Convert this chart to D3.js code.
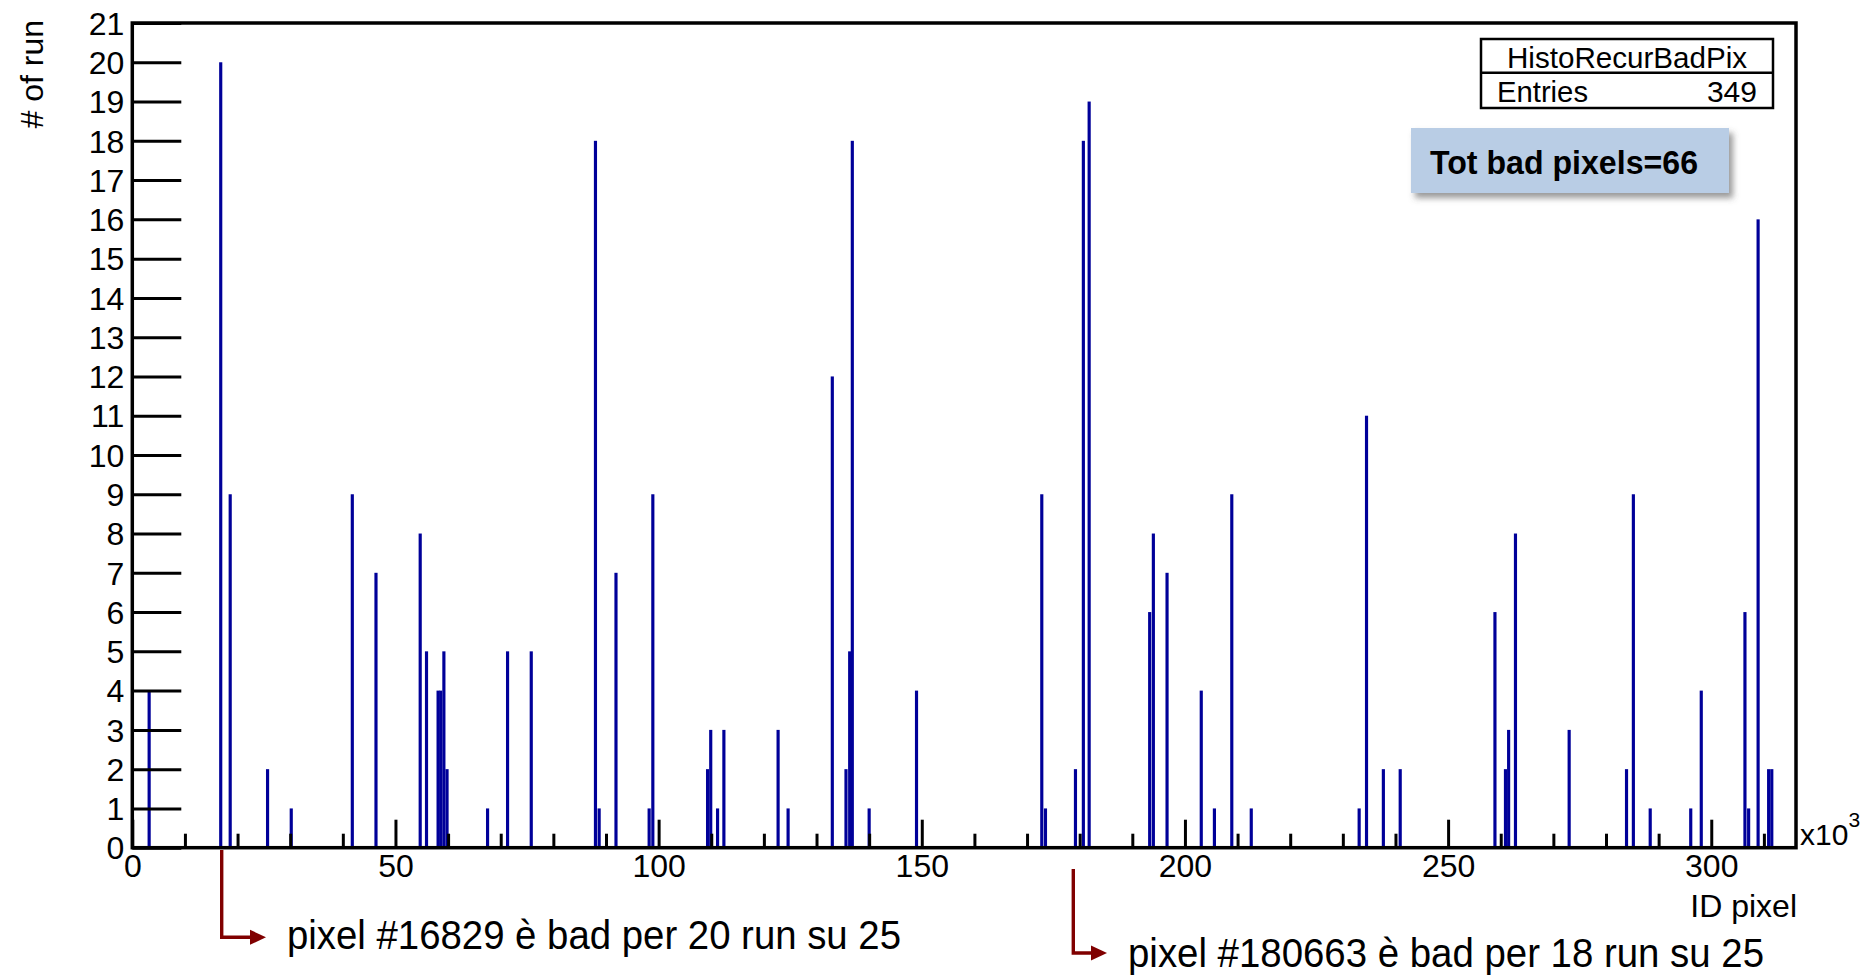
<!DOCTYPE html>
<html>
<head>
<meta charset="utf-8">
<script src="https://cdn.jsdelivr.net/npm/d3@7"></script>
<style>
  html, body { margin: 0; padding: 0; background: #fff; }
  svg { display: block; }
  text { font-family: "Liberation Sans", Arial, sans-serif; }
</style>
</head>
<body>
<svg id="chart" width="1872" height="977"></svg>
<script>
// ---- data (pixel ID in units of 10^3, number of runs) ----
const pixelIds = [3.2, 16.8, 18.6, 25.7, 30.2, 41.8, 46.3, 54.7, 55.9, 58.1, 58.6, 59.2, 59.8,
  67.5, 71.3, 75.8, 88.0, 88.7, 91.9, 98.2, 98.9, 109.3, 109.9, 111.2, 112.4, 122.7, 124.6,
  133.0, 135.6, 136.3, 136.8, 140.0, 149.0, 172.8, 173.5, 179.2, 180.7, 181.8, 193.3, 194.0,
  196.6, 203.1, 205.6, 208.9, 212.6, 233.1, 234.5, 237.7, 240.9, 258.9, 260.9, 261.5, 262.8,
  273.0, 283.9, 285.2, 288.4, 296.1, 298.1, 306.4, 307.1, 308.9, 310.9, 311.5];
const runCounts = [4, 20, 9, 2, 1, 9, 7, 8, 5, 4, 4, 5, 2,
  1, 5, 5, 18, 1, 7, 1, 9, 2, 3, 1, 3, 3, 1,
  12, 2, 5, 18, 1, 4, 9, 1, 2, 18, 19, 6, 8,
  7, 4, 1, 9, 1, 1, 11, 2, 2, 6, 2, 3, 8,
  3, 2, 9, 1, 1, 4, 6, 1, 16, 2, 2];
const xMajorTicks = [0, 50, 100, 150, 200, 250, 300];
const xMinorTicks = [10, 20, 30, 40, 60, 70, 80, 90, 110, 120, 130, 140, 160, 170, 180, 190,
  210, 220, 230, 240, 260, 270, 280, 290, 310];
const yTicks = d3.range(0, 22);
const histoName = "HistoRecurBadPix";
const entries = "349";
const totBadLabel = "Tot bad pixels=66";
const note1 = "pixel #16829 è bad per 20 run su 25";
const note2 = "pixel #180663 è bad per 18 run su 25";
const binWidth = 0.6;

const svg = d3.select("#chart");
const L = 132.3, R = 1796, T = 23, B = 847.7;

const x = d3.scaleLinear().domain([0, 316.1]).range([L, R]);
const y = d3.scaleLinear().domain([0, 21]).range([B, T]);

// bars
const data = pixelIds.map((p, i) => ({ p, v: runCounts[i] }));
svg.append("g").selectAll("rect").data(data).join("rect")
  .attr("x", d => x(d.p - binWidth / 2))
  .attr("width", d => x(binWidth) - x(0))
  .attr("y", d => y(d.v))
  .attr("height", d => y(0) - y(d.v))
  .attr("fill", "#000099");

// y axis
const gy = svg.append("g").attr("transform", `translate(${L},0)`)
  .call(d3.axisLeft(y).tickValues(yTicks).tickSize(-49).tickPadding(8).tickFormat(d3.format("d")));
gy.select(".domain").remove();
gy.selectAll("line").attr("stroke", "#000").attr("stroke-width", 3);
gy.selectAll("text").attr("font-size", 32).attr("fill", "#000").attr("dy", "0.35em");

// x axis major
const gx = svg.append("g").attr("transform", `translate(0,${B})`)
  .call(d3.axisBottom(x).tickValues(xMajorTicks).tickSize(-28).tickPadding(7).tickFormat(d3.format("d")));
gx.select(".domain").remove();
gx.selectAll("line").attr("stroke", "#000").attr("stroke-width", 3);
gx.selectAll("text").attr("font-size", 32).attr("fill", "#000");

// x axis minor
const gxm = svg.append("g").attr("transform", `translate(0,${B})`)
  .call(d3.axisBottom(x).tickValues(xMinorTicks).tickSize(-14).tickFormat(""));
gxm.select(".domain").remove();
gxm.selectAll("line").attr("stroke", "#000").attr("stroke-width", 3);

// frame
svg.append("rect").attr("x", L).attr("y", T).attr("width", R - L).attr("height", B - T)
  .attr("fill", "none").attr("stroke", "#000").attr("stroke-width", 3.5);

// x10^3
const mult = svg.append("text").attr("x", 1800).attr("y", 845).attr("font-size", 30).attr("fill", "#000");
mult.append("tspan").text("x10");
mult.append("tspan").attr("font-size", 21).attr("dy", -18).text("3");

// axis titles
svg.append("text").attr("x", 1797).attr("y", 917).attr("text-anchor", "end")
  .attr("font-size", 32).attr("fill", "#000").text("ID pixel");
svg.append("text").attr("transform", "translate(43,20) rotate(-90)").attr("text-anchor", "end")
  .attr("font-size", 32).attr("fill", "#000").text("# of run");

// stats box
svg.append("rect").attr("x", 1481).attr("y", 39).attr("width", 292).attr("height", 69)
  .attr("fill", "#fff").attr("stroke", "#000").attr("stroke-width", 2.5);
svg.append("line").attr("x1", 1481).attr("x2", 1773).attr("y1", 72.7).attr("y2", 72.7)
  .attr("stroke", "#000").attr("stroke-width", 2.5);
svg.append("text").attr("x", 1507).attr("y", 68).attr("font-size", 30)
  .attr("textLength", 240).attr("lengthAdjust", "spacingAndGlyphs").attr("fill", "#000").text(histoName);
svg.append("text").attr("x", 1497).attr("y", 102).attr("font-size", 30)
  .attr("textLength", 91).attr("lengthAdjust", "spacingAndGlyphs").attr("fill", "#000").text("Entries");
svg.append("text").attr("x", 1757).attr("y", 102).attr("font-size", 30).attr("text-anchor", "end")
  .attr("fill", "#000").text(entries);

// Tot bad pixels box
const defs = svg.append("defs");
const f = defs.append("filter").attr("id", "shadow").attr("x", "-10%").attr("y", "-20%")
  .attr("width", "130%").attr("height", "160%");
f.append("feDropShadow").attr("dx", 4).attr("dy", 5).attr("stdDeviation", 3)
  .attr("flood-color", "#555").attr("flood-opacity", 0.6);
svg.append("rect").attr("x", 1411).attr("y", 128).attr("width", 318).attr("height", 65)
  .attr("fill", "#b9cde5").attr("filter", "url(#shadow)");
svg.append("text").attr("x", 1430).attr("y", 173.5).attr("font-size", 33)
  .attr("font-family", "Lato, 'Open Sans', sans-serif").attr("font-weight", "bold")
  .attr("textLength", 268).attr("lengthAdjust", "spacingAndGlyphs").attr("fill", "#000").text(totBadLabel);

// annotations with arrows
const arrowColor = "#800000";
function arrow(xv, yTop, yH, xEnd) {
  svg.append("path").attr("d", `M${xv},${yTop} V${yH} H${xEnd - 14}`)
    .attr("fill", "none").attr("stroke", arrowColor).attr("stroke-width", 3.4);
  svg.append("path").attr("d", `M${xEnd - 16},${yH - 7.5} L${xEnd},${yH} L${xEnd - 16},${yH + 7.5} Z`)
    .attr("fill", arrowColor);
}
arrow(221.7, 850, 937.3, 266);
arrow(1073.3, 869, 953, 1107);

svg.append("text").attr("x", 287).attr("y", 949).attr("font-size", 41)
  .attr("font-family", "Lato, 'Open Sans', sans-serif")
  .attr("textLength", 614).attr("lengthAdjust", "spacingAndGlyphs").attr("fill", "#000").text(note1);
svg.append("text").attr("x", 1128).attr("y", 967).attr("font-size", 41)
  .attr("font-family", "Lato, 'Open Sans', sans-serif")
  .attr("textLength", 636).attr("lengthAdjust", "spacingAndGlyphs").attr("fill", "#000").text(note2);
</script>
</body>
</html>
